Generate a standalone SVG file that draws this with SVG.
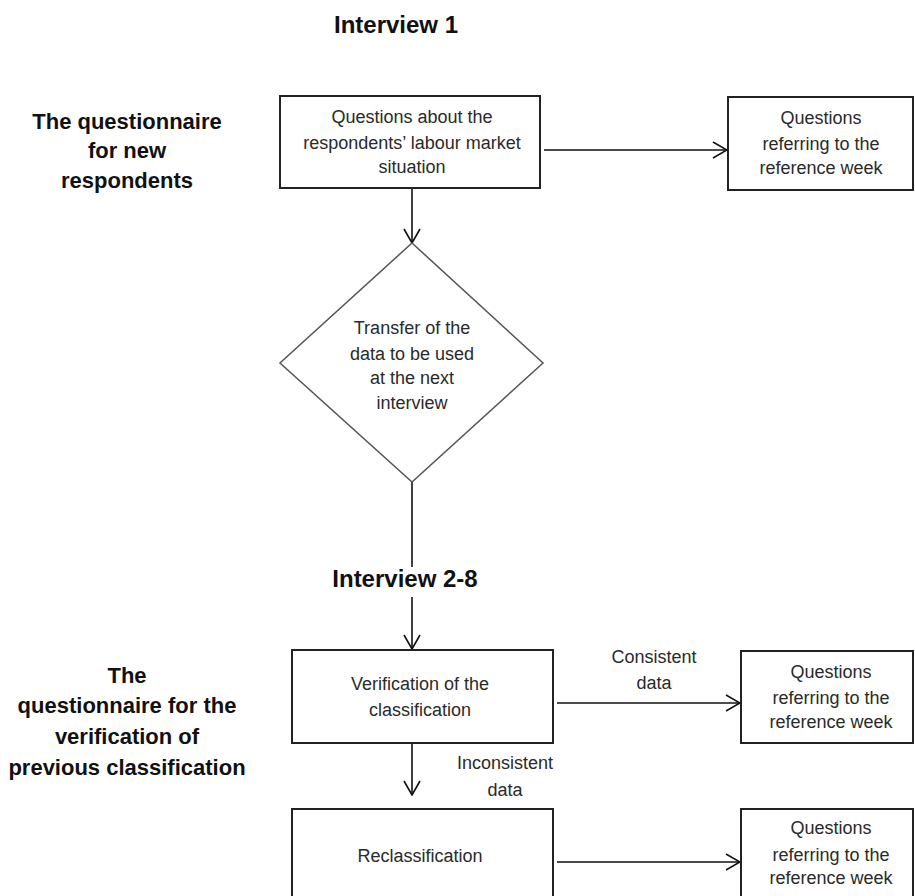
<svg xmlns="http://www.w3.org/2000/svg" width="915" height="896" viewBox="0 0 915 896">
<style>
.box{fill:#fff;stroke:#222;stroke-width:2}
.dia{fill:#fff;stroke:#555;stroke-width:1.5}
.t{font-family:"Liberation Sans",Arial,sans-serif;font-size:18px;fill:#2a2a2a;text-anchor:middle}
.h{font-family:"Liberation Sans",Arial,sans-serif;font-size:24px;font-weight:bold;fill:#111;text-anchor:middle}
.l{font-family:"Liberation Sans",Arial,sans-serif;font-size:22px;font-weight:bold;fill:#111;text-anchor:middle}
.c{fill:none;stroke:#111;stroke-width:1.6}
</style>
<defs>
<marker id="arr" markerUnits="userSpaceOnUse" viewBox="0 0 16 18" refX="15" refY="9" markerWidth="16" markerHeight="18" orient="auto">
<path d="M1,1 L15,9 L1,17" fill="none" stroke="#111" stroke-width="1.6"/>
</marker>
</defs>
<rect width="915" height="896" fill="#fff"/>

<g id="heading1"><text class="h" x="396" y="33">Interview 1</text></g>
<g id="heading2"><text class="h" x="405" y="587">Interview 2-8</text></g>

<g id="label1">
<text class="l" x="127" y="129">The questionnaire</text>
<text class="l" x="127" y="158">for new</text>
<text class="l" x="127" y="188">respondents</text>
</g>
<g id="label2">
<text class="l" x="127" y="683">The</text>
<text class="l" x="127" y="713">questionnaire for the</text>
<text class="l" x="127" y="744">verification of</text>
<text class="l" x="127" y="775">previous classification</text>
</g>

<g id="connectors">
<line class="c" x1="544" y1="150" x2="727" y2="150" marker-end="url(#arr)"/>
<line class="c" x1="412" y1="189" x2="412" y2="243" marker-end="url(#arr)"/>
<line class="c" x1="412" y1="482" x2="412" y2="567"/>
<line class="c" x1="412" y1="597" x2="412" y2="649" marker-end="url(#arr)"/>
<line class="c" x1="557" y1="703" x2="740" y2="703" marker-end="url(#arr)"/>
<line class="c" x1="412" y1="744" x2="412" y2="795" marker-end="url(#arr)"/>
<line class="c" x1="557" y1="862" x2="740" y2="862" marker-end="url(#arr)"/>
<text class="t" x="654" y="663">Consistent</text>
<text class="t" x="654" y="689">data</text>
<text class="t" x="505" y="769">Inconsistent</text>
<text class="t" x="505" y="796">data</text>
</g>

<g id="n1">
<rect class="box" x="280" y="96" width="260" height="92"/>
<text class="t" x="412" y="123">Questions about the</text>
<text class="t" x="412" y="149">respondents’ labour market</text>
<text class="t" x="412" y="173">situation</text>
</g>
<g id="n2">
<rect class="box" x="728" y="97" width="185" height="93"/>
<text class="t" x="821" y="124">Questions</text>
<text class="t" x="821" y="150">referring to the</text>
<text class="t" x="821" y="174">reference week</text>
</g>
<g id="n3">
<polygon class="dia" points="412,243 543,363 412,482 280,363"/>
<text class="t" x="412" y="334">Transfer of the</text>
<text class="t" x="412" y="360">data to be used</text>
<text class="t" x="412" y="384">at the next</text>
<text class="t" x="412" y="409">interview</text>
</g>
<g id="n4">
<rect class="box" x="292" y="650" width="261" height="93"/>
<text class="t" x="420" y="690">Verification of the</text>
<text class="t" x="420" y="716">classification</text>
</g>
<g id="n5">
<rect class="box" x="741" y="651" width="172" height="92"/>
<text class="t" x="831" y="678">Questions</text>
<text class="t" x="831" y="704">referring to the</text>
<text class="t" x="831" y="728">reference week</text>
</g>
<g id="n6">
<rect class="box" x="292" y="809" width="261" height="95"/>
<text class="t" x="420" y="862">Reclassification</text>
</g>
<g id="n7">
<rect class="box" x="741" y="809" width="172" height="95"/>
<text class="t" x="831" y="834">Questions</text>
<text class="t" x="831" y="861">referring to the</text>
<text class="t" x="831" y="884">reference week</text>
</g>
</svg>
